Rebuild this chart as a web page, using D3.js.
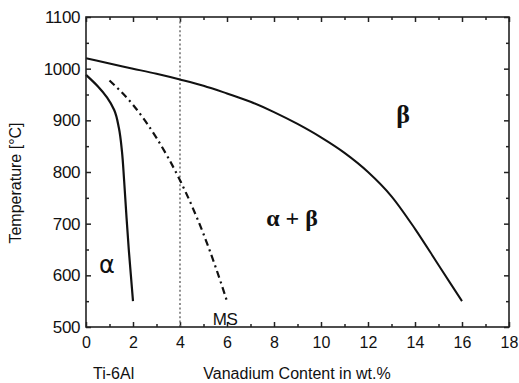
<!DOCTYPE html>
<html>
<head>
<meta charset="utf-8">
<script src="https://cdn.jsdelivr.net/npm/d3@7"></script>
<style>
  html, body { margin: 0; padding: 0; background: #fff; }
  svg { display: block; }
  text { font-family: "Liberation Sans", Arial, sans-serif; fill: #111; }
</style>
</head>
<body>
<svg id="chart" width="519" height="383"></svg>
<script>
// Ti-6Al-xV phase diagram: temperature vs vanadium content
const xTicks = [0, 2, 4, 6, 8, 10, 12, 14, 16, 18];
const yTicks = [500, 600, 700, 800, 900, 1000, 1100];

// beta transus (solid)
const betaTransus = [
  [0, 1020], [1, 1010], [2, 1000], [3, 990], [4, 979], [5, 967], [6, 952], [7, 936],
  [8, 916], [9, 893], [10, 867], [11, 837], [12, 800], [13, 753], [14, 690],
  [15, 620], [16, 550]
];
// alpha solvus (solid)
const alphaSolvus = [
  [0, 988], [0.5, 966], [0.9, 944], [1.2, 920], [1.4, 885],
  [1.53, 840], [1.62, 785], [1.72, 715], [1.82, 650], [1.91, 600], [2.0, 550]
];
// martensite start (dash-dot)
const msLine = [
  [1.0, 977], [2.0, 930], [3.0, 866], [4.0, 784], [4.5, 735], [5.0, 680],
  [5.5, 618], [6.0, 550]
];
const compositionMark = 4;

const svg = d3.select("#chart");
const mLeft = 86, mRight = 509, mTop = 17, mBottom = 327;

const x = d3.scaleLinear().domain([0, 18]).range([mLeft, mRight]);
const y = d3.scaleLinear().domain([500, 1100]).range([mBottom, mTop]);

const minorX = d3.range(1, 18, 2);
const minorY = d3.range(550, 1100, 100);

function tickAxis(axisFn, scale, values, size) {
  return axisFn(scale).tickValues(values).tickSizeInner(-size).tickSizeOuter(0).tickFormat("");
}

// minor + major ticks on all four sides (pointing inward)
const gTicks = svg.append("g").attr("class", "ticks");
[
  [d3.axisBottom, x, xTicks, 5, `translate(0,${mBottom})`],
  [d3.axisBottom, x, minorX, 3, `translate(0,${mBottom})`],
  [d3.axisTop, x, xTicks, 5, `translate(0,${mTop})`],
  [d3.axisTop, x, minorX, 3, `translate(0,${mTop})`],
  [d3.axisLeft, y, yTicks, 5, `translate(${mLeft},0)`],
  [d3.axisLeft, y, minorY, 3, `translate(${mLeft},0)`],
  [d3.axisRight, y, yTicks, 5, `translate(${mRight},0)`],
  [d3.axisRight, y, minorY, 3, `translate(${mRight},0)`]
].forEach(([fn, sc, vals, sz, tr]) => {
  const g = gTicks.append("g").attr("transform", tr).call(tickAxis(fn, sc, vals, sz));
  g.select(".domain").remove();
  g.selectAll("line").attr("stroke", "#222").attr("stroke-width", 1.5);
});

// tick labels
const xAxis = svg.append("g").attr("transform", `translate(0,${mBottom})`)
  .call(d3.axisBottom(x).tickValues(xTicks).tickSize(0).tickPadding(10).tickFormat(d3.format("d")));
xAxis.select(".domain").remove();
xAxis.selectAll("text").style("font-size", "16px").attr("dy", "0.71em").attr("fill", "#111");

const yAxis = svg.append("g").attr("transform", `translate(${mLeft},0)`)
  .call(d3.axisLeft(y).tickValues(yTicks).tickSize(0).tickPadding(6).tickFormat(d3.format("d")));
yAxis.select(".domain").remove();
yAxis.selectAll("text").style("font-size", "17px").style("letter-spacing", "-0.4px").attr("fill", "#111");

// vertical dotted line at the alloy's composition
svg.append("line")
  .attr("x1", x(compositionMark)).attr("x2", x(compositionMark))
  .attr("y1", y(1100)).attr("y2", y(500))
  .attr("stroke", "#777").attr("stroke-width", 1.6).attr("stroke-dasharray", "2,2.4");

const lineX = d3.line().x(d => x(d[0])).y(d => y(d[1])).curve(d3.curveMonotoneX);
const lineV = d3.line().x(d => x(d[0])).y(d => y(d[1])).curve(d3.curveMonotoneY);

svg.append("path").datum(betaTransus).attr("d", lineX)
  .attr("fill", "none").attr("stroke", "#111").attr("stroke-width", 2);
svg.append("path").datum(alphaSolvus).attr("d", lineV)
  .attr("fill", "none").attr("stroke", "#111").attr("stroke-width", 2.2);
svg.append("path").datum(msLine).attr("d", lineX)
  .attr("fill", "none").attr("stroke", "#111").attr("stroke-width", 2.2)
  .attr("stroke-dasharray", "7,4,2,4");

// frame
svg.append("rect")
  .attr("x", mLeft).attr("y", mTop).attr("width", mRight - mLeft).attr("height", mBottom - mTop)
  .attr("fill", "none").attr("stroke", "#222").attr("stroke-width", 1.6);

// phase field labels
svg.append("text").attr("x", 107).attr("y", 273).attr("text-anchor", "middle")
  .style("font-size", "24px").style("font-family", "'DejaVu Sans', sans-serif").text("α");
svg.append("text").attr("x", 292).attr("y", 226).attr("text-anchor", "middle")
  .style("font-size", "24px").style("font-weight", "bold")
  .style("font-family", "'Liberation Serif', serif").text("α + β");
svg.append("text").attr("x", 403).attr("y", 123).attr("text-anchor", "middle")
  .style("font-size", "26px").style("font-weight", "bold")
  .style("font-family", "'Liberation Serif', serif").text("β");
svg.append("text").attr("x", 225).attr("y", 325).attr("text-anchor", "middle")
  .style("font-size", "17px").style("letter-spacing", "-0.5px").text("MS");

// axis titles
svg.append("text").attr("x", 297).attr("y", 379).attr("text-anchor", "middle")
  .style("font-size", "16px").text("Vanadium Content in wt.%");
svg.append("text").attr("x", 93).attr("y", 379)
  .style("font-size", "16px").text("Ti-6Al");
svg.append("text")
  .attr("transform", "translate(21,183) rotate(-90)")
  .attr("text-anchor", "middle")
  .style("font-size", "16px").text("Temperature [°C]");
</script>
</body>
</html>
